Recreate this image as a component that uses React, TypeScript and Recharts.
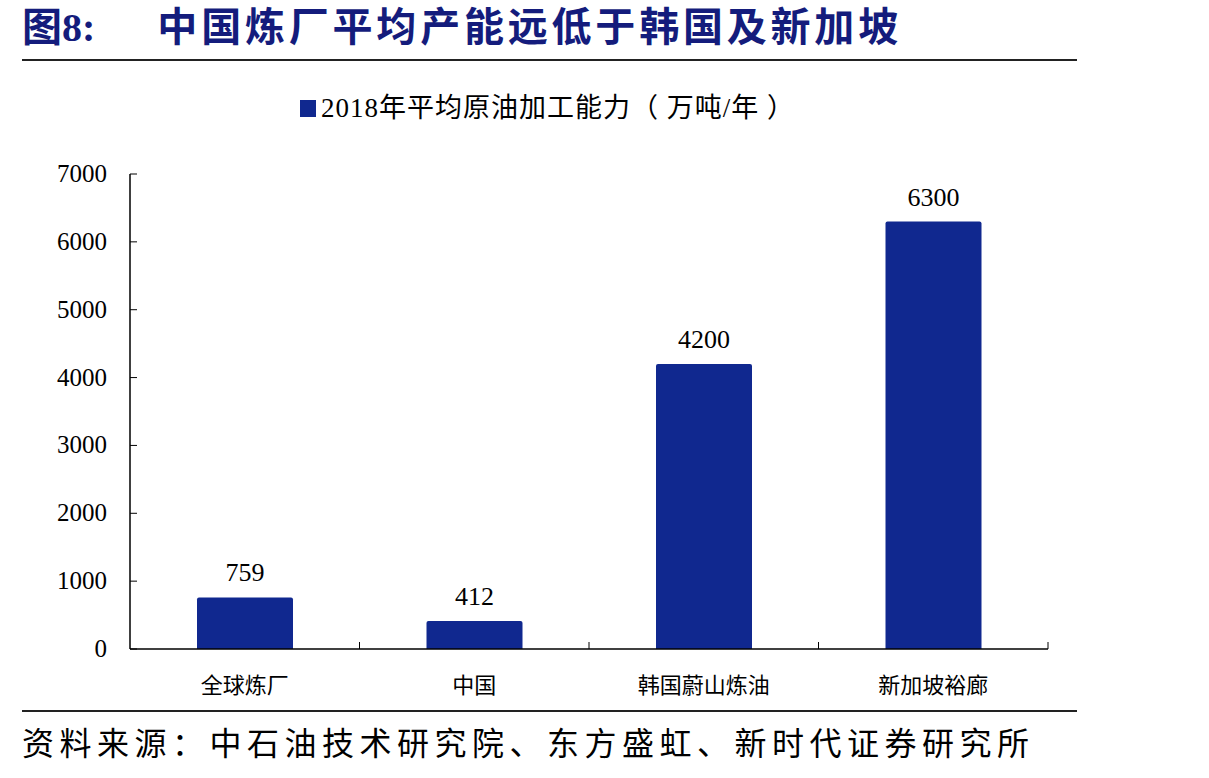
import React from 'react';
import { BarChart, Bar, XAxis, YAxis, LabelList } from 'recharts';

const categories = ['全球炼厂', '中国', '韩国蔚山炼油', '新加坡裕廊'];
const capacity = [759, 412, 4200, 6300];
const yTicks = [0, 1000, 2000, 3000, 4000, 5000, 6000, 7000];
const seriesName = '2018年平均原油加工能力（ 万吨/年 ）';

const data = categories.map((name, i) => ({ name, value: capacity[i] }));

const W = 1209;
const H = 778;
const PLOT_LEFT = 130;
const PLOT_RIGHT = 1048;
const PLOT_TOP = 174;
const PLOT_BOTTOM = 649;
const BAND = (PLOT_RIGHT - PLOT_LEFT) / categories.length;

const BAR_COLOR = '#10288f';
const TITLE_COLOR = '#141c7c';
const FONT = "'Liberation Serif', 'Times New Roman', 'Noto Sans CJK SC', serif";

const YTick = (props: any) => {
  const { y, payload } = props;
  return (
    <g>
      <line x1={PLOT_LEFT} x2={PLOT_LEFT + 7} y1={y} y2={y} stroke="#000" strokeWidth={1} />
      <text x={PLOT_LEFT - 23} y={y} dy={8} textAnchor="end" fill="#000" style={{ fontSize: 25, fontFamily: FONT }}>
        {payload.value}
      </text>
    </g>
  );
};

const XTick = (props: any) => {
  const { x, payload } = props;
  const edge = x + BAND / 2;
  return (
    <g>
      <line x1={edge} x2={edge} y1={PLOT_BOTTOM} y2={PLOT_BOTTOM - 7} stroke="#000" strokeWidth={1} />
      <text x={x} y={PLOT_BOTTOM + 44} textAnchor="middle" fill="#000" style={{ fontSize: 22, fontFamily: FONT }}>
        {payload.value}
      </text>
    </g>
  );
};

export default function App() {
  return (
    <div style={{ position: 'absolute', left: 0, top: 0, width: W, height: H, background: '#fff', fontFamily: FONT }}>
      <div
        style={{
          position: 'absolute',
          left: 22,
          top: 2,
          fontSize: 40,
          fontWeight: 'bold',
          color: TITLE_COLOR,
          whiteSpace: 'nowrap',
          lineHeight: '52px',
        }}
      >
        <span>图8:</span>
        <span style={{ marginLeft: 62, letterSpacing: 3.8 }}>中国炼厂平均产能远低于韩国及新加坡</span>
      </div>
      <div style={{ position: 'absolute', left: 22, top: 59, width: 1055, height: 2, background: '#222' }} />

      <div
        style={{
          position: 'absolute',
          left: 300,
          top: 92,
          display: 'flex',
          alignItems: 'center',
          whiteSpace: 'nowrap',
          fontSize: 27,
          color: '#000',
          lineHeight: '32px',
        }}
      >
        <span style={{ display: 'inline-block', width: 16, height: 17, background: BAR_COLOR, marginRight: 5 }} />
        <span style={{ letterSpacing: 1 }}>{seriesName}</span>
      </div>

      <BarChart
        width={W}
        height={H}
        data={data}
        style={{ position: 'absolute', left: 0, top: 0 }}
        margin={{ top: PLOT_TOP, right: W - PLOT_RIGHT, bottom: H - PLOT_BOTTOM - 60, left: PLOT_LEFT - 80 }}
      >
        <XAxis
          dataKey="name"
          height={60}
          axisLine={{ stroke: '#000', strokeWidth: 1.5 }}
          tickLine={false}
          tick={<XTick />}
          interval={0}
        />
        <YAxis
          width={80}
          domain={[0, 7000]}
          ticks={yTicks}
          axisLine={{ stroke: '#000', strokeWidth: 1.5 }}
          tickLine={false}
          tick={<YTick />}
          interval={0}
        />
        <Bar dataKey="value" fill={BAR_COLOR} barSize={96} radius={[2, 2, 0, 0]} isAnimationActive={false}>
          <LabelList
            dataKey="value"
            position="top"
            offset={16}
            fill="#000"
            style={{ fontSize: 26, fontFamily: FONT }}
          />
        </Bar>
      </BarChart>

      <div style={{ position: 'absolute', left: 22, top: 710, width: 1055, height: 2, background: '#222' }} />
      <div
        style={{
          position: 'absolute',
          left: 22,
          top: 724,
          fontSize: 32,
          letterSpacing: 5.5,
          color: '#000',
          whiteSpace: 'nowrap',
          lineHeight: '40px',
        }}
      >
        资料来源：中石油技术研究院、东方盛虹、新时代证券研究所
      </div>
    </div>
  );
}
